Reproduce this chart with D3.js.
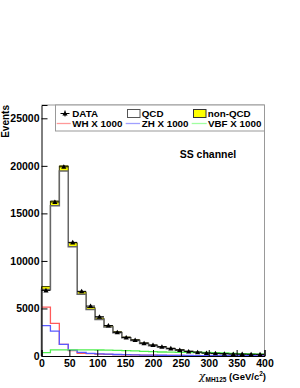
<html>
<head>
  <script src="https://d3js.org/d3.v7.min.js"></script>
  <style>
    body { margin: 0; padding: 0; background: white; }
    svg text { font-family: "Liberation Sans", Arial, sans-serif; font-weight: bold; }
  </style>
</head>
<body>
<div id="chart"></div>
<script>
// bins: 25 bins of 16 GeV from 0 to 400
const binEdges = d3.range(0, 401, 16);
const dataCounts = [6900, 16200, 19900, 11950, 6800, 5250, 4130, 3200, 2500, 1950, 1680, 1350, 1150, 980, 800, 640, 480, 400, 320, 280, 245, 215, 200, 180, 170];
const qcd = [7000, 15800, 19450, 11500, 6490, 4900, 3840, 3050, 2440, 1910, 1620, 1310, 1090, 930, 765, 610, 465, 380, 302, 260, 228, 200, 182, 164, 150];
const nonQcd = [300, 500, 550, 400, 260, 200, 160, 130, 110, 90, 80, 70, 60, 50, 45, 40, 35, 30, 28, 25, 22, 20, 18, 16, 15];
const wh = [5150, 3430, 1220, 560, 280, 240, 200, 170, 150, 130, 110, 100, 85, 75, 65, 55, 50, 45, 40, 35, 30, 28, 25, 22, 20];
const zh = [3190, 2620, 1220, 620, 380, 280, 230, 190, 160, 140, 120, 100, 90, 80, 70, 60, 55, 50, 45, 40, 35, 30, 28, 25, 22];
const vbf = [360, 640, 650, 650, 650, 640, 630, 620, 600, 570, 530, 490, 450, 420, 400, 390, 385, 380, 370, 350, 320, 280, 240, 210, 190];
const xTicks = [0, 50, 100, 150, 200, 250, 300, 350, 400];
const yTicks = [0, 5000, 10000, 15000, 20000, 25000];

const W = 300, H = 388;
const m = { left: 41.5, top: 105, right: 35.5, bottom: 32 };
const pw = W - m.left - m.right, ph = H - m.top - m.bottom;

const svg = d3.select("#chart").append("svg").attr("width", W).attr("height", H);
const g = svg.append("g").attr("transform", `translate(${m.left},${m.top})`);

const x = d3.scaleLinear().domain([0, 400]).range([0, pw]);
const y = d3.scaleLinear().domain([0, 26400]).range([ph, 0]);

// step path through bin tops
function stepLine(vals, closed) {
  const pts = [];
  if (closed) pts.push([x(binEdges[0]), y(0)]);
  vals.forEach((v, i) => {
    pts.push([x(binEdges[i]), y(v)]);
    pts.push([x(binEdges[i + 1]), y(v)]);
  });
  if (closed) pts.push([x(binEdges[vals.length]), y(0)]);
  return d3.line()(pts);
}

const total = qcd.map((v, i) => v + nonQcd[i]);

// stack: total (yellow) then QCD (white) on top
g.append("path").attr("d", stepLine(total, true))
  .attr("fill", "#ffff00").attr("stroke", "#3a3a00").attr("stroke-width", 1);
g.append("path").attr("d", stepLine(qcd, true))
  .attr("fill", "white").attr("stroke", "#666").attr("stroke-width", 1.5);

// signals
const sig = [[wh, "#ff5a5a"], [zh, "#5a5aff"], [vbf, "#50ee50"]];
sig.forEach(([vals, col]) => {
  g.append("path").attr("d", stepLine(vals, false))
    .attr("fill", "none").attr("stroke", col).attr("stroke-width", 1.3);
});

// data points
const dg = g.append("g");
dataCounts.forEach((v, i) => {
  const cx = x((binEdges[i] + binEdges[i + 1]) / 2);
  const err = Math.sqrt(v);
  dg.append("line").attr("x1", x(binEdges[i])).attr("x2", x(binEdges[i + 1]))
    .attr("y1", y(v)).attr("y2", y(v)).attr("stroke", "black").attr("stroke-width", 1);
  dg.append("line").attr("x1", cx).attr("x2", cx)
    .attr("y1", y(v - err)).attr("y2", y(v + err)).attr("stroke", "black").attr("stroke-width", 1);
});
dg.selectAll("path.mk").data(dataCounts).enter().append("path")
  .attr("transform", (d, i) => `translate(${x((binEdges[i] + binEdges[i + 1]) / 2)},${y(d) + 0.5})`)
  .attr("d", d3.symbol().type(d3.symbolTriangle).size(12))
  .attr("fill", "black");

// frame
g.append("line").attr("x1", 0).attr("x2", pw).attr("y1", 0).attr("y2", 0).attr("stroke", "#999");
g.append("line").attr("x1", pw).attr("x2", pw).attr("y1", 0).attr("y2", ph).attr("stroke", "#999");

// axes
const xAxis = g.append("g").attr("transform", `translate(0,${ph})`);
xAxis.call(d3.axisBottom(x).tickValues(d3.range(0, 401, 10)).tickSize(-3).tickFormat(""));
xAxis.call(d3.axisBottom(x).tickValues(xTicks).tickSize(-6).tickPadding(4).tickFormat(d3.format("d")));
xAxis.selectAll("text").attr("font-size", "10.5px").attr("fill", "black");
xAxis.selectAll(".domain").attr("stroke", "black");

const yAxis = g.append("g");
yAxis.call(d3.axisLeft(y).tickValues(d3.range(0, 26001, 1000)).tickSize(-3).tickFormat(""));
yAxis.call(d3.axisLeft(y).tickValues(yTicks).tickSize(-6).tickPadding(2).tickFormat(d3.format("d")));
yAxis.selectAll("text").attr("font-size", "10.5px").attr("fill", "black");
yAxis.selectAll(".domain").attr("stroke", "black");

// axis titles
svg.append("text").attr("transform", "translate(9,105) rotate(-90)")
  .attr("text-anchor", "end").attr("font-size", "10px").text("Events");

const xt = svg.append("text").attr("x", 266).attr("y", 380).attr("text-anchor", "end").attr("font-size", "9.5px");
xt.append("tspan").attr("font-weight", "normal").attr("font-family", "DejaVu Serif").attr("font-style", "italic").attr("font-size", "11px").text("χ");
xt.append("tspan").attr("font-size", "6.5px").attr("dy", 2).text("MH125");
xt.append("tspan").attr("dy", -2).text(" (GeV/c");
xt.append("tspan").attr("font-size", "6.5px").attr("dy", -4).text("2");
xt.append("tspan").attr("dy", 4).text(")");

// channel label
svg.append("text").attr("x", 208).attr("y", 158).attr("text-anchor", "middle")
  .attr("font-size", "10.5px").text("SS channel");

// legend
const lg = svg.append("g");
lg.append("rect").attr("x", 55.5).attr("y", 105).attr("width", 264.5 - 55.5).attr("height", 26)
  .attr("fill", "white").attr("stroke", "#999").attr("stroke-width", 1);
const r1 = 113.5, r2 = 123.5;
lg.append("line").attr("x1", 60.5).attr("x2", 69.5).attr("y1", r1).attr("y2", r1).attr("stroke", "black");
lg.append("line").attr("x1", 65).attr("x2", 65).attr("y1", r1 - 3).attr("y2", r1 + 3).attr("stroke", "black");
lg.append("path").attr("transform", `translate(65,${r1 + 0.5})`)
  .attr("d", d3.symbol().type(d3.symbolTriangle).size(12)).attr("fill", "black");
lg.append("rect").attr("x", 127.5).attr("y", 109.5).attr("width", 12.5).attr("height", 8)
  .attr("fill", "white").attr("stroke", "#555");
lg.append("rect").attr("x", 193.5).attr("y", 109.5).attr("width", 12.5).attr("height", 8)
  .attr("fill", "#ffff00").attr("stroke", "#333");
const legendItems = [
  ["DATA", 72.3, r1], ["QCD", 141.7, r1], ["non-QCD", 207.7, r1],
  ["WH X 1000", 72.3, r2], ["ZH X 1000", 141.7, r2], ["VBF X 1000", 208, r2]
];
legendItems.forEach(([t, lx, ly]) => {
  lg.append("text").attr("x", lx).attr("y", ly + 3.5).attr("font-size", "9.8px").text(t);
});
[[56.7, 70.7, "#ff9999"], [125.7, 140, "#a0a0ff"], [191.7, 206.7, "#a0ffa0"]].forEach(([a, b, c]) => {
  lg.append("line").attr("x1", a).attr("x2", b).attr("y1", r2).attr("y2", r2).attr("stroke", c).attr("stroke-width", 1.3);
});
</script>
</body>
</html>
